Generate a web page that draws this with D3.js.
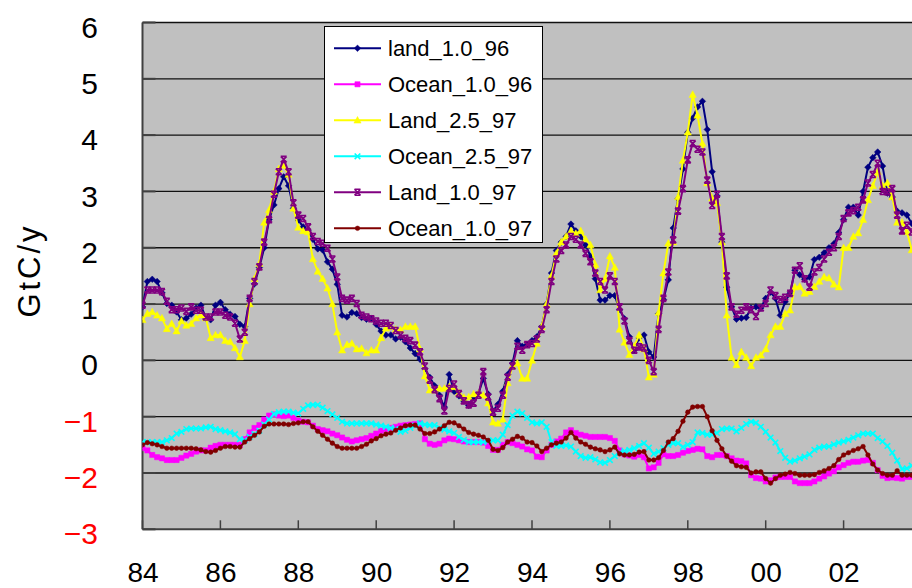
<!DOCTYPE html>
<html>
<head>
<meta charset="utf-8">
<script src="https://cdn.jsdelivr.net/npm/d3@7"></script>
<style>
  body { margin: 0; background: #fff; }
  svg { display: block; }
  text { font-family: "Liberation Sans", Arial, sans-serif; }
</style>
</head>
<body>
<svg id="chart" width="912" height="588"></svg>
<script>
// one value every 1/8 year, starting Jan 1984
const startYear = 1984;
const stepsPerYear = 8;

const xTicks = [1984, 1986, 1988, 1990, 1992, 1994, 1996, 1998, 2000, 2002];
const xLabels = ["84", "86", "88", "90", "92", "94", "96", "98", "00", "02"];
const yTicks = [-3, -2, -1, 0, 1, 2, 3, 4, 5, 6];

const seriesNames = ["land_1.0_96", "Ocean_1.0_96", "Land_2.5_97", "Ocean_2.5_97", "Land_1.0_97", "Ocean_1.0_97"];

const land_1_0_96 = [
  0.95, 1.40, 1.44, 1.40, 1.20, 1.01, 0.98, 0.86,
  0.72, 0.75, 0.82, 0.93, 0.98, 0.75, 0.72, 0.98,
  1.03, 0.90, 0.82, 0.78, 0.64, 0.60, 1.10, 1.36,
  1.65, 2.00, 2.50, 2.76, 3.05, 3.26, 3.10, 2.70,
  2.49, 2.37, 2.31, 2.15, 1.98, 1.96, 1.75, 1.62,
  1.35, 0.80, 0.77, 0.85, 0.83, 0.76, 0.73, 0.74,
  0.64, 0.52, 0.45, 0.45, 0.38, 0.41, 0.33, 0.22,
  0.12, 0.02, -0.15, -0.30, -0.45, -0.62, -0.83, -0.25,
  -0.55, -0.63, -0.72, -0.80, -0.65, -0.59, -0.32, -0.60,
  -0.90, -0.78, -0.55, -0.25, -0.05, 0.35, 0.25, 0.28,
  0.35, 0.42, 0.60, 1.00, 1.55, 1.95, 2.10, 2.20,
  2.42, 2.30, 2.20, 2.05, 1.85, 1.45, 1.07, 1.07,
  1.15, 1.15, 0.90, 0.74, 0.42, 0.18, 0.40, 0.45,
  0.15, 0.06, 0.83, 1.08, 1.43, 2.35, 2.87, 3.40,
  4.05, 4.30, 4.50, 4.60, 4.10, 3.35, 2.92, 2.10,
  1.30, 0.95, 0.73, 0.75, 0.76, 0.93, 0.95, 0.93,
  1.10, 1.21, 1.10, 0.80, 1.04, 1.19, 1.60, 1.52,
  1.44, 1.48, 1.79, 1.83, 1.91, 2.00, 2.07, 2.27,
  2.50, 2.72, 2.72, 2.58, 3.00, 3.43, 3.60, 3.70,
  3.45, 2.97, 2.90, 2.65, 2.62, 2.58, 2.43, 2.40
];

const ocean_1_0_96 = [
  -1.56, -1.60, -1.68, -1.72, -1.74, -1.77, -1.77, -1.77,
  -1.73, -1.69, -1.66, -1.62, -1.60, -1.60, -1.55, -1.52,
  -1.50, -1.50, -1.50, -1.50, -1.50, -1.40, -1.28, -1.20,
  -1.15, -1.05, -0.98, -0.96, -0.98, -0.99, -0.98, -1.02,
  -1.07, -1.09, -1.10, -1.16, -1.22, -1.24, -1.26, -1.30,
  -1.33, -1.37, -1.41, -1.44, -1.42, -1.40, -1.38, -1.34,
  -1.30, -1.25, -1.22, -1.20, -1.18, -1.16, -1.15, -1.14,
  -1.13, -1.12, -1.40, -1.48, -1.50, -1.48, -1.42, -1.39,
  -1.40, -1.42, -1.44, -1.45, -1.45, -1.45, -1.46, -1.52,
  -1.59, -1.59, -1.50, -1.45, -1.47, -1.50, -1.53, -1.58,
  -1.60, -1.71, -1.72, -1.60, -1.50, -1.44, -1.39, -1.28,
  -1.24, -1.29, -1.32, -1.34, -1.36, -1.36, -1.36, -1.36,
  -1.38, -1.43, -1.60, -1.67, -1.69, -1.71, -1.68, -1.72,
  -1.92, -1.90, -1.82, -1.67, -1.70, -1.70, -1.68, -1.64,
  -1.61, -1.59, -1.57, -1.58, -1.70, -1.72, -1.68, -1.68,
  -1.70, -1.74, -1.78, -1.79, -1.83, -2.04, -2.09, -2.10,
  -2.15, -2.13, -2.08, -2.07, -2.07, -2.07, -2.15, -2.18,
  -2.18, -2.18, -2.15, -2.10, -2.06, -2.01, -1.97, -1.90,
  -1.86, -1.82, -1.80, -1.80, -1.78, -1.77, -1.82, -1.95,
  -2.05, -2.09, -2.08, -2.09, -2.10, -2.07, -2.07, -2.07
];

const land_2_5_97 = [
  0.72, 0.83, 0.86, 0.80, 0.75, 0.56, 0.65, 0.52,
  0.70, 0.62, 0.65, 0.75, 0.80, 0.75, 0.40, 0.45,
  0.45, 0.35, 0.33, 0.22, 0.06, 0.35, 1.00, 1.45,
  1.72, 2.45, 2.67, 3.00, 3.40, 3.46, 3.30, 2.70,
  2.36, 2.30, 2.28, 1.80, 1.58, 1.45, 1.28, 1.00,
  0.50, 0.18, 0.28, 0.30, 0.20, 0.21, 0.13, 0.18,
  0.18, 0.40, 0.57, 0.60, 0.55, 0.54, 0.60, 0.60,
  0.60, 0.20, -0.28, -0.53, -0.53, -0.50, -0.50, -0.47,
  -0.47, -0.58, -0.66, -0.65, -0.60, -0.59, -0.62, -0.76,
  -1.10, -1.12, -1.05, -0.40, -0.10, -0.05, -0.32, -0.32,
  0.00, 0.30, 0.60, 1.00, 1.50, 1.90, 2.10, 2.20,
  2.30, 2.25, 2.30, 2.15, 2.05, 1.70, 1.25, 1.45,
  1.85, 1.65, 0.55, 0.32, 0.10, 0.25, 0.45, 0.20,
  -0.30, -0.25, 0.85, 1.55, 2.08, 2.10, 2.90, 3.55,
  4.05, 4.72, 4.35, 3.85, 3.15, 2.88, 2.80, 2.10,
  0.80, 0.05, -0.08, 0.15, 0.05, -0.10, 0.05, 0.09,
  0.20, 0.45, 0.60, 0.60, 0.83, 0.89, 1.30, 1.31,
  1.19, 1.22, 1.31, 1.40, 1.48, 1.46, 1.35, 1.30,
  2.00, 2.00, 2.20, 2.26, 2.50, 2.85, 3.10, 3.35,
  3.10, 3.15, 2.90, 2.45, 2.45, 2.28, 1.96, 1.90
];

const ocean_2_5_97 = [
  -1.45, -1.45, -1.45, -1.45, -1.45, -1.42, -1.38, -1.30,
  -1.27, -1.22, -1.21, -1.21, -1.21, -1.19, -1.18, -1.22,
  -1.24, -1.26, -1.28, -1.31, -1.40, -1.42, -1.36, -1.31,
  -1.25, -1.14, -1.05, -0.95, -0.92, -0.91, -0.91, -0.93,
  -0.94, -0.86, -0.80, -0.79, -0.79, -0.84, -0.90, -0.96,
  -1.02, -1.09, -1.12, -1.12, -1.12, -1.12, -1.12, -1.12,
  -1.14, -1.16, -1.18, -1.20, -1.22, -1.27, -1.25, -1.20,
  -1.16, -1.12, -1.14, -1.15, -1.15, -1.20, -1.23, -1.26,
  -1.29, -1.36, -1.41, -1.45, -1.45, -1.45, -1.45, -1.43,
  -1.42, -1.42, -1.32, -1.15, -0.98, -0.91, -0.94, -1.02,
  -1.10, -1.12, -1.10, -1.18, -1.45, -1.52, -1.52, -1.51,
  -1.53, -1.62, -1.70, -1.73, -1.72, -1.76, -1.81, -1.82,
  -1.77, -1.70, -1.64, -1.61, -1.59, -1.56, -1.52, -1.47,
  -1.55, -1.66, -1.62, -1.56, -1.50, -1.47, -1.47, -1.54,
  -1.50, -1.45, -1.28, -1.29, -1.32, -1.32, -1.29, -1.22,
  -1.21, -1.21, -1.26, -1.20, -1.13, -1.09, -1.11, -1.18,
  -1.27, -1.37, -1.46, -1.61, -1.73, -1.80, -1.78, -1.74,
  -1.71, -1.67, -1.59, -1.55, -1.53, -1.53, -1.49, -1.46,
  -1.44, -1.41, -1.37, -1.33, -1.30, -1.30, -1.30, -1.38,
  -1.44, -1.52, -1.64, -1.78, -1.93, -1.92, -1.87, -1.85
];

const land_1_0_97 = [
  0.98, 1.25, 1.25, 1.25, 1.22, 1.05, 0.90, 0.90,
  0.93, 0.87, 0.95, 0.89, 0.89, 0.77, 0.77, 0.86,
  0.86, 0.80, 0.77, 0.66, 0.38, 0.50, 1.10, 1.40,
  1.66, 2.10, 2.50, 2.95, 3.35, 3.57, 3.35, 2.80,
  2.58, 2.52, 2.37, 2.20, 2.11, 2.08, 1.99, 1.80,
  1.48, 1.10, 1.07, 1.10, 1.01, 0.80, 0.77, 0.74,
  0.70, 0.66, 0.66, 0.62, 0.53, 0.45, 0.39, 0.35,
  0.27, 0.15, -0.10, -0.35, -0.52, -0.68, -0.90, -0.50,
  -0.42, -0.59, -0.72, -0.79, -0.76, -0.62, -0.20, -0.65,
  -0.92, -0.85, -0.62, -0.30, -0.10, 0.25, 0.18, 0.28,
  0.30, 0.38, 0.55, 0.90, 1.40, 1.80, 1.95, 2.05,
  2.20, 2.15, 2.05, 1.90, 1.75, 1.55, 1.40, 1.25,
  1.50, 1.40, 0.95, 0.70, 0.35, 0.18, 0.24, 0.22,
  0.00, -0.20, 0.55, 1.10, 1.57, 2.14, 2.65, 3.05,
  3.56, 3.85, 3.75, 3.70, 3.20, 2.75, 2.95, 2.20,
  1.50, 0.95, 0.82, 0.89, 0.95, 0.90, 0.78, 0.93,
  1.01, 1.25, 1.15, 1.08, 1.12, 1.19, 1.60, 1.68,
  1.45, 1.30, 1.57, 1.65, 1.80, 1.92, 2.00, 2.20,
  2.52, 2.62, 2.66, 2.72, 2.85, 3.15, 3.30, 3.50,
  3.00, 2.99, 3.05, 2.58, 2.30, 2.40, 2.28, 2.30
];

const ocean_1_0_97 = [
  -1.50, -1.46, -1.48, -1.50, -1.53, -1.56, -1.56, -1.56,
  -1.56, -1.56, -1.56, -1.57, -1.59, -1.62, -1.63, -1.60,
  -1.56, -1.53, -1.53, -1.54, -1.54, -1.45, -1.39, -1.33,
  -1.27, -1.17, -1.13, -1.13, -1.13, -1.13, -1.14, -1.12,
  -1.11, -1.09, -1.09, -1.18, -1.26, -1.33, -1.40, -1.47,
  -1.53, -1.56, -1.56, -1.56, -1.56, -1.53, -1.49, -1.43,
  -1.39, -1.34, -1.31, -1.29, -1.24, -1.20, -1.16, -1.15,
  -1.15, -1.22, -1.30, -1.30, -1.27, -1.22, -1.16, -1.10,
  -1.11, -1.16, -1.22, -1.28, -1.31, -1.33, -1.36, -1.42,
  -1.58, -1.60, -1.55, -1.45, -1.40, -1.35, -1.38, -1.45,
  -1.46, -1.52, -1.62, -1.56, -1.50, -1.47, -1.45, -1.38,
  -1.28, -1.38, -1.45, -1.49, -1.54, -1.57, -1.59, -1.62,
  -1.59, -1.54, -1.66, -1.68, -1.68, -1.67, -1.63, -1.62,
  -1.77, -1.77, -1.73, -1.60, -1.45, -1.39, -1.26, -1.08,
  -0.92, -0.83, -0.82, -0.82, -1.00, -1.25, -1.42, -1.57,
  -1.70, -1.79, -1.87, -1.89, -1.90, -2.00, -1.98, -1.98,
  -2.10, -2.18, -2.10, -2.04, -2.02, -1.99, -2.01, -2.04,
  -2.04, -2.04, -2.03, -1.99, -1.96, -1.92, -1.87, -1.76,
  -1.68, -1.64, -1.60, -1.57, -1.53, -1.68, -1.84, -1.95,
  -2.01, -2.04, -2.04, -1.96, -2.04, -2.04, -2.04, -2.04
];

const seriesValues = [land_1_0_96, ocean_1_0_96, land_2_5_97, ocean_2_5_97, land_1_0_97, ocean_1_0_97];
const seriesColors = ["#000080", "#ff00ff", "#ffff00", "#00ffff", "#800080", "#800000"];

// custom marker shapes in the spreadsheet style
const markerTypes = [
  { fill: true, draw(ctx) { ctx.moveTo(0, -3.3); ctx.lineTo(3.3, 0); ctx.lineTo(0, 3.3); ctx.lineTo(-3.3, 0); ctx.closePath(); } },
  { fill: true, draw(ctx) { ctx.rect(-2.6, -2.6, 5.2, 5.2); } },
  { fill: true, draw(ctx) { ctx.moveTo(0, -3.8); ctx.lineTo(3.6, 2.8); ctx.lineTo(-3.6, 2.8); ctx.closePath(); } },
  { fill: false, draw(ctx) { ctx.moveTo(-2.8, -2.8); ctx.lineTo(2.8, 2.8); ctx.moveTo(-2.8, 2.8); ctx.lineTo(2.8, -2.8); } },
  { fill: false, draw(ctx) {
      ctx.moveTo(-3, -3); ctx.lineTo(3, 3); ctx.moveTo(-3, 3); ctx.lineTo(3, -3);
      ctx.moveTo(-3, -3); ctx.lineTo(3, -3); ctx.moveTo(-3, 3); ctx.lineTo(3, 3);
    } },
  { fill: true, draw(ctx) { ctx.moveTo(2.3, 0); ctx.arc(0, 0, 2.3, 0, 2 * Math.PI); } }
];

const series = seriesNames.map((name, k) => ({
  name,
  color: seriesColors[k],
  marker: markerTypes[k],
  points: seriesValues[k].map((v, i) => ({ t: startYear + i / stepsPerYear, v }))
}));

const width = 912;
const height = 588;
const plotLeft = 142.5;
const plotTop = 22.5;
const plotBottom = 529.3;

const x = d3.scaleLinear().domain([1984, 2004]).range([plotLeft, 921.5]);
const y = d3.scaleLinear().domain([-3, 6]).range([plotBottom, plotTop]);

const svg = d3.select("#chart");

svg.append("defs").append("clipPath").attr("id", "plotClip")
  .append("rect")
  .attr("x", plotLeft).attr("y", 0)
  .attr("width", width - plotLeft).attr("height", plotBottom);

svg.append("rect")
  .attr("x", plotLeft).attr("y", plotTop)
  .attr("width", width - plotLeft).attr("height", plotBottom - plotTop)
  .attr("fill", "#c0c0c0");

// horizontal gridlines
svg.append("g")
  .selectAll("line")
  .data(yTicks.filter((v) => v > -3))
  .join("line")
  .attr("x1", plotLeft).attr("x2", width)
  .attr("y1", (d) => y(d)).attr("y2", (d) => y(d))
  .attr("stroke", "#111")
  .attr("stroke-width", 1.3);

// short tick marks on the value axis
svg.append("g")
  .selectAll("line")
  .data(yTicks)
  .join("line")
  .attr("x1", plotLeft).attr("x2", plotLeft + 13)
  .attr("y1", (d) => y(d)).attr("y2", (d) => y(d))
  .attr("stroke", "#404040")
  .attr("stroke-width", 2);

// tick marks on the time axis
svg.append("g")
  .selectAll("line")
  .data(xTicks)
  .join("line")
  .attr("x1", (d) => x(d)).attr("x2", (d) => x(d))
  .attr("y1", plotBottom).attr("y2", plotBottom - 9)
  .attr("stroke", "#404040")
  .attr("stroke-width", 1.5);

svg.append("line")
  .attr("x1", plotLeft).attr("x2", plotLeft)
  .attr("y1", plotTop).attr("y2", plotBottom)
  .attr("stroke", "#404040").attr("stroke-width", 2);
svg.append("line")
  .attr("x1", plotLeft).attr("x2", width)
  .attr("y1", plotBottom).attr("y2", plotBottom)
  .attr("stroke", "#404040").attr("stroke-width", 2);

// series
const line = d3.line().x((d) => x(d.t)).y((d) => y(d.v));
const plotG = svg.append("g").attr("clip-path", "url(#plotClip)");

series.forEach((s) => {
  const g = plotG.append("g");
  g.append("path")
    .datum(s.points)
    .attr("d", line)
    .attr("fill", "none")
    .attr("stroke", s.color)
    .attr("stroke-width", 2)
    .attr("stroke-linejoin", "round");
  const sym = d3.symbol().type(s.marker);
  g.selectAll("path.mk")
    .data(s.points)
    .join("path")
    .attr("class", "mk")
    .attr("transform", (d) => `translate(${x(d.t)},${y(d.v)})`)
    .attr("d", sym)
    .attr("fill", s.marker.fill ? s.color : "none")
    .attr("stroke", s.color)
    .attr("stroke-width", s.marker.fill ? 0.5 : 1.6);
});

// value axis labels
const fmt = (v) => (v < 0 ? "\u2212" + Math.abs(v) : String(v));
const yAxis = svg.append("g")
  .attr("transform", "translate(98,5)")
  .call(d3.axisLeft(y).tickValues(yTicks).tickSize(0).tickPadding(0).tickFormat(fmt));
yAxis.select(".domain").remove();
yAxis.selectAll("text")
  .attr("font-family", '"Liberation Sans", Arial, sans-serif')
  .attr("font-size", 30)
  .attr("fill", (d) => (d < 0 ? "#ff0000" : "#000"));

// time axis labels
const xAxis = svg.append("g")
  .attr("transform", "translate(0,581.5)")
  .call(d3.axisBottom(x).tickValues(xTicks).tickSize(0).tickPadding(0).tickFormat((d, i) => xLabels[i]));
xAxis.select(".domain").remove();
xAxis.selectAll("text")
  .attr("y", 0).attr("dy", 0)
  .attr("font-family", '"Liberation Sans", Arial, sans-serif')
  .attr("font-size", 28)
  .attr("fill", "#000");

svg.append("text")
  .attr("transform", "translate(40,272) rotate(-90)")
  .attr("text-anchor", "middle")
  .attr("font-size", 31)
  .attr("textLength", 91)
  .attr("lengthAdjust", "spacing")
  .text("GtC/y");

// legend
const legend = svg.append("g");
legend.append("rect")
  .attr("x", 324.5).attr("y", 26.5)
  .attr("width", 218).attr("height", 216)
  .attr("fill", "#fff")
  .attr("stroke", "#000")
  .attr("stroke-width", 1);

const item = legend.selectAll("g.item")
  .data(series)
  .join("g")
  .attr("class", "item")
  .attr("transform", (d, i) => `translate(0,${48.3 + i * 36})`);

item.append("line")
  .attr("x1", 334).attr("x2", 381)
  .attr("stroke", (d) => d.color)
  .attr("stroke-width", 2);
item.append("path")
  .attr("transform", "translate(357.5,0)")
  .attr("d", (d) => d3.symbol().type(d.marker)())
  .attr("fill", (d) => (d.marker.fill ? d.color : "none"))
  .attr("stroke", (d) => d.color)
  .attr("stroke-width", (d) => (d.marker.fill ? 0.5 : 1.6));
item.append("text")
  .attr("x", 388)
  .attr("y", 8)
  .attr("font-size", 22)
  .attr("fill", "#000")
  .text((d) => d.name);
</script>
</body>
</html>
